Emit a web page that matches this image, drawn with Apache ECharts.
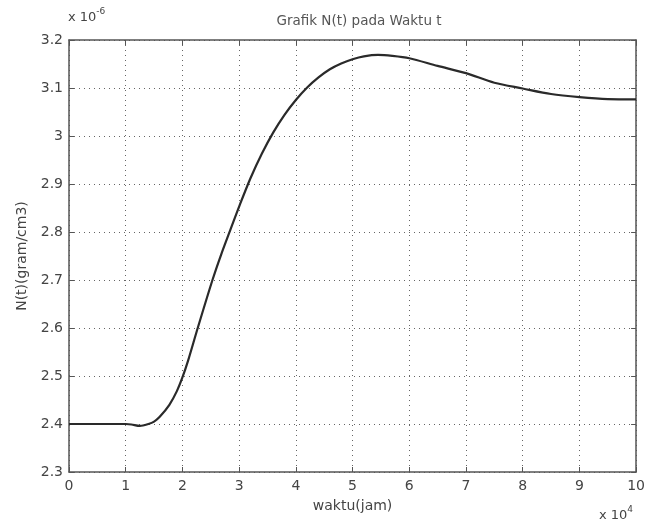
<!DOCTYPE html>
<html lang="en">
<head>
    <meta charset="UTF-8">
    <title>Grafik N(t)</title>
    <script src="https://cdn.jsdelivr.net/npm/echarts@6/dist/echarts.min.js"></script>
    <style>
        html, body { margin: 0; padding: 0; background: #fff; }
    </style>
</head>
<body>
<div id="chartmain" style="width:648px; height:524px;"></div>
<script type="text/javascript">
    // waktu (x 10^4 jam) dan N(t) (x 10^-6 gram/cm3)
    var waktu = [0, 0.5, 1.0, 1.1, 1.25, 1.4, 1.5, 1.6, 1.77, 1.9, 2.0, 2.1, 2.27, 2.53, 2.68, 2.85, 3.0,
        3.2, 3.4, 3.6, 3.8, 4.0, 4.2, 4.4, 4.6, 4.8, 5.0, 5.2, 5.45, 5.7, 6.0, 6.5, 7.0, 7.5, 8.0, 8.5, 9.0, 9.5, 10];
    var nilaiN = [2.4, 2.4, 2.4, 2.399, 2.396, 2.4, 2.405, 2.415, 2.44, 2.468, 2.497, 2.532, 2.6, 2.7, 2.752, 2.806, 2.853,
        2.912, 2.963, 3.007, 3.044, 3.075, 3.101, 3.122, 3.139, 3.151, 3.16, 3.166, 3.169, 3.167, 3.162, 3.146, 3.131, 3.111, 3.099, 3.0875, 3.081, 3.077, 3.0765];
    var xTicks = [0, 1, 2, 3, 4, 5, 6, 7, 8, 9, 10];
    var yTicks = [2.3, 2.4, 2.5, 2.6, 2.7, 2.8, 2.9, 3, 3.1, 3.2];

    var txt = '#444';
    var font = 'DejaVu Sans, sans-serif';
    var data = waktu.map(function (t, i) { return [t, nilaiN[i]]; });

    var myChart = echarts.init(document.getElementById('chartmain'));
    myChart.setOption({
        backgroundColor: '#fff',
        animation: false,
        title: {
            text: 'Grafik N(t) pada Waktu t',
            left: 354, top: 9, textAlign: 'center',
            textStyle: { fontSize: 13.5, fontWeight: 'normal', color: '#555', fontFamily: font }
        },
        grid: { left: 69, top: 40, right: 9, bottom: 52 },
        graphic: [
            {
                type: 'text', left: 68, top: 7,
                style: {
                    text: '{a|x 10}{b|-6}',
                    rich: {
                        a: { fontSize: 13, fill: txt, fontFamily: font, verticalAlign: 'bottom' },
                        b: { fontSize: 9, fill: txt, fontFamily: font, verticalAlign: 'top', padding: [0, 0, 8, 0] }
                    }
                }
            },
            {
                type: 'text', left: 599, top: 505,
                style: {
                    text: '{a|x 10}{b|4}',
                    rich: {
                        a: { fontSize: 13, fill: txt, fontFamily: font, verticalAlign: 'bottom' },
                        b: { fontSize: 9, fill: txt, fontFamily: font, verticalAlign: 'top', padding: [0, 0, 8, 0] }
                    }
                }
            }
        ],
        xAxis: [{
            type: 'value', min: 0, max: 10, interval: 1,
            name: 'waktu(jam)', nameLocation: 'middle', nameGap: 27,
            nameTextStyle: { fontSize: 14, color: txt, fontFamily: font },
            axisLine: { show: true, onZero: false, lineStyle: { color: '#555', width: 1.5 } },
            axisTick: { show: true, inside: true, length: 5, lineStyle: { color: '#555' } },
            axisLabel: {
                color: txt, fontSize: 14, fontFamily: font, margin: 7,
                formatter: function (v) { return xTicks.indexOf(v) >= 0 ? String(v) : ''; }
            },
            splitLine: { show: true, lineStyle: { color: '#666', type: [1, 4], width: 1 } }
        }, {
            type: 'value', min: 0, max: 10, interval: 1, position: 'top',
            axisLine: { show: true, onZero: false, lineStyle: { color: '#555', width: 1.5 } },
            axisTick: { show: true, inside: true, length: 5, lineStyle: { color: '#555' } },
            axisLabel: { show: false },
            splitLine: { show: false }
        }],
        yAxis: [{
            type: 'value', min: 2.3, max: 3.2, interval: 0.1,
            name: 'N(t)(gram/cm3)', nameLocation: 'middle', nameGap: 40,
            nameTextStyle: { fontSize: 14, color: txt, fontFamily: font },
            axisLine: { show: true, onZero: false, lineStyle: { color: '#555', width: 1.5 } },
            axisTick: { show: true, inside: true, length: 5, lineStyle: { color: '#555' } },
            axisLabel: {
                color: txt, fontSize: 14, fontFamily: font, margin: 6,
                formatter: function (v) {
                    var r = Math.round(v * 10) / 10;
                    return yTicks.indexOf(r) >= 0 ? String(r) : '';
                }
            },
            splitLine: { show: true, lineStyle: { color: '#666', type: [1, 4], width: 1 } }
        }, {
            type: 'value', min: 2.3, max: 3.2, interval: 0.1, position: 'right',
            axisLine: { show: true, onZero: false, lineStyle: { color: '#555', width: 1.5 } },
            axisTick: { show: true, inside: true, length: 5, lineStyle: { color: '#555' } },
            axisLabel: { show: false },
            splitLine: { show: false }
        }],
        series: [{
            type: 'line',
            data: data,
            smooth: 0.3,
            showSymbol: false,
            lineStyle: { color: '#2a2a2a', width: 2.2 }
        }]
    });
</script>
</body>
</html>
